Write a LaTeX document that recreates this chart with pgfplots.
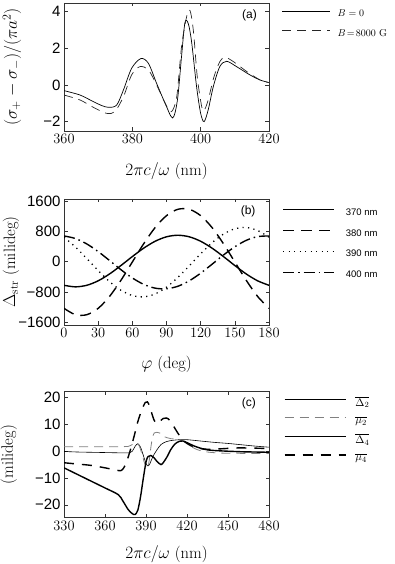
\documentclass[border=0pt]{standalone}
\usepackage{fontspec}
\usepackage{pgfplots}
\pgfplotsset{compat=1.18}
\newfontfamily\helv{Liberation Sans}

\pgfplotsset{
 myaxis/.style={
   scale only axis, width=205pt, anchor=south west,
   axis line style={black!80, line width=0.9pt},
   tick align=inside, tick style={black!80, line width=0.6pt}, major tick length=3.5pt,
   tick label style={font=\helv\fontsize{15}{17}\selectfont},
   label style={font=\fontsize{16.5}{19}\selectfont},
   legend style={draw=none, fill=none, at={(rel axis cs:1,1)}, anchor=north west, inner sep=0pt, outer sep=0pt, cells={anchor=west}},
 }
}

\begin{document}
\begin{tikzpicture}
\useasboundingbox (0,0) rectangle (395pt,564pt);

% ---------------- (a)
\begin{axis}[myaxis, height=128pt, at={(64pt,433pt)},
  xmin=360, xmax=420, ymin=-2.51, ymax=4.47,
  xtick={360,380,400,420}, ytick={-2,0,2,4}, yticklabels={−2,0,2,4},
  xlabel={$2\pi c/\omega$ (nm)},
  xlabel style={at={(axis description cs:0.5,0)}, anchor=center, yshift=-40pt},
  ylabel={$(\sigma_+-\sigma_-)/(\pi a^2)$},
  ylabel style={at={(axis description cs:-0.254,0.5)}, anchor=center},
  legend style={xshift=13pt, yshift=-5pt, font=\fontsize{10}{11}\selectfont, row sep=7pt},
  legend image code/.code={\draw[#1] (0pt,3pt) -- (48pt,3pt); \path (53pt,3pt);},
]
\addplot[black, line width=0.7pt, smooth] coordinates {
(360,-0.31) (364.7,-0.55) (368.6,-0.91) (371,-1.12) (373,-1.22) (375.4,-1.1) (377.4,-0.27) (379.8,0.91) (382.5,1.44) (384.7,1.18) (387.1,0.09) (389.6,-1.0) (391.8,-1.8) (393.2,-0.82) (394.4,1.55) (395.4,3.4) (396.4,3.33) (397.4,2.27) (398.8,-0.09) (400,-1.55) (401,-2.0) (402.2,-1.36) (403.7,-0.09) (405.6,1.0) (407.6,1.29) (410.5,1.0) (414.4,0.55) (417.4,0.27) (420,0.13)};
\addlegendentry{$B=0$}
\addplot[black!85, line width=0.7pt, smooth, dash pattern=on 9pt off 6pt] coordinates {
(360,-0.55) (364.7,-0.82) (368.6,-1.22) (372.5,-1.55) (374.9,-1.45) (377.4,-0.64) (379.8,0.55) (382.2,1.0) (384.7,0.82) (387.1,0) (390.1,-1.18) (391.5,-1.45) (393,-0.64) (394.4,2.09) (395.9,3.73) (396.9,4.05) (397.9,2.9) (399,0.45) (400.3,-1.18) (401,-1.4) (402.2,-0.82) (403.9,0.45) (405.6,1.27) (407.1,1.51) (409.6,1.27) (413.5,0.73) (417.4,0.27) (420,0.13)};
\addlegendentry{$B\!=\!8000$ G}
\node[font=\helv\fontsize{12}{14}\selectfont] at (rel axis cs:0.905,0.906) {(a)};
\end{axis}

% ---------------- (b)
\begin{axis}[myaxis, height=126pt, at={(64pt,239pt)},
  xmin=0, xmax=180, ymin=-1670, ymax=1650,
  xtick={0,30,...,180}, ytick={-1600,-800,0,800,1600}, yticklabels={−1600,−800,0,800,1600},
  xlabel={$\varphi$ (deg)},
  xlabel style={at={(axis description cs:0.5,0)}, anchor=center, yshift=-39pt},
  ylabel={$\Delta_{\rm str}$ (milideg)},
  ylabel style={at={(axis description cs:-0.258,0.5)}, anchor=center},
  legend style={xshift=13.5pt, yshift=-7.5pt, font=\helv\fontsize{9.5}{10}\selectfont, row sep=8.8pt},
  legend image code/.code={\draw[#1] (0pt,3pt) -- (51pt,3pt); \path (60pt,3pt);},
]
\addplot[black, line width=1.4pt, smooth] coordinates {
(0,-624) (10,-665) (20,-624) (30,-506) (40,-325) (50,-103) (60,133) (70,355) (80,536) (90,654) (100,695) (110,654) (120,536) (130,355) (140,133) (150,-103) (160,-325) (170,-506) (180,-624)};
\addlegendentry{370 nm}
\addplot[black, line width=1.4pt, smooth, dash pattern=on 11pt off 7pt] coordinates {
(0,-1231) (10,-1399) (20,-1399) (30,-1231) (40,-917) (50,-492) (60,-10) (70,472) (80,897) (90,1211) (100,1379) (110,1379) (120,1211) (130,897) (140,472) (150,-10) (160,-492) (170,-917) (180,-1231)};
\addlegendentry{380 nm}
\addplot[black, line width=1.3pt, smooth, dash pattern=on 1.2pt off 4.3pt] coordinates {
(0,643) (10,386) (20,81) (30,-236) (40,-527) (50,-755) (60,-894) (70,-928) (80,-851) (90,-673) (100,-416) (110,-111) (120,206) (130,497) (140,725) (150,864) (160,898) (170,821) (180,643)};
\addlegendentry{390 nm}
\addplot[black, line width=1.4pt, smooth, dash pattern=on 11pt off 4pt on 1.5pt off 4pt] coordinates {
(0,676) (10,609) (20,466) (30,265) (40,29) (50,-213) (60,-431) (70,-600) (80,-699) (90,-716) (100,-649) (110,-506) (120,-305) (130,-69) (140,173) (150,391) (160,560) (170,659) (180,676)};
\addlegendentry{400 nm}
\node[font=\helv\fontsize{12}{14}\selectfont] at (rel axis cs:0.898,0.905) {(b)};
\end{axis}

% ---------------- (c)
\begin{axis}[myaxis, height=126pt, at={(64pt,46.3pt)},
  xmin=330, xmax=480, ymin=-24.8, ymax=22.2,
  xtick={330,360,...,480}, ytick={-20,-10,0,10,20}, yticklabels={−20,−10,0,10,20},
  xlabel={$2\pi c/\omega$ (nm)},
  xlabel style={at={(axis description cs:0.5,0)}, anchor=center, yshift=-36pt},
  ylabel={(milideg)},
  ylabel style={at={(axis description cs:-0.27,0.5)}, anchor=center},
  legend style={xshift=15pt, yshift=-3pt, font=\fontsize{11}{12}\selectfont, row sep=5pt},
  legend image code/.code={\draw[#1] (0pt,3pt) -- (61pt,3pt); \path (68pt,3pt);},
]
\addplot[black, line width=0.6pt, smooth] coordinates {
(330,-0.1) (340,-0.3) (350,-0.4) (360,-0.5) (370,-0.6) (378,-0.6) (380,0) (382,1.8) (384,2.8) (386,1.5) (388,-1.5) (390,-4.5) (391.5,-5.5) (393,-4.5) (395,-2) (398,0.5) (401,2.5) (405,3.6) (410,4.1) (415,4.3) (420,4.3) (430,3.8) (440,3.3) (450,2.9) (460,2.4) (470,1.9) (480,1.5)};
\addlegendentry{$\overline{\Delta_2}$}
\addplot[gray, line width=0.8pt, smooth, dash pattern=on 9pt off 6pt] coordinates {
(330,1.7) (340,1.7) (350,1.7) (360,1.7) (370,1.7) (377,1.8) (380,2.5) (383,3) (385,2) (387,-1) (389,-4.5) (391,-6.5) (392.5,-3) (394,3) (396,6.8) (400,6.8) (403,5.5) (408,4.7) (414,4.4) (418,3.5) (422,2) (428,0.5) (435,-0.3) (445,-0.7) (460,-0.8) (480,-0.8)};
\addlegendentry{$\overline{\mu_2}$}
\addplot[black, line width=1.4pt, smooth] coordinates {
(330,-6.2) (340,-8.7) (350,-11.2) (360,-13.7) (369.7,-16.2) (373,-18.5) (377,-21.8) (380,-23.3) (382,-23.6) (384,-22) (386,-17) (388,-10.2) (390,-4) (391.5,-2) (393.5,-1.6) (396,-2.5) (398,-3.8) (401,-5) (403,-4) (405.5,-2) (408,0.5) (411,2.6) (414,3.6) (417,3.8) (420,3.2) (425,2.0) (430,1.1) (435,0.5) (442,0.2) (450,0) (460,-0.2) (470,-0.3) (480,-0.4)};
\addlegendentry{$\overline{\Delta_4}$}
\addplot[black, line width=1.4pt, smooth, dash pattern=on 10pt off 8pt] coordinates {
(330,-4.3) (340,-4.8) (350,-5.3) (360,-6.2) (368,-7) (372,-7.2) (375,-5) (378,-0.5) (381,5) (384,11) (387,15.5) (389.5,18.2) (391,18.4) (392.5,17) (394,14.5) (396,11.5) (398,10.3) (400,11) (402.5,12.2) (405,12.4) (407.5,11.5) (410,9.5) (413,7) (416,4.8) (419,3.3) (423,2) (428,1.2) (435,0.7) (445,0.9) (455,1.2) (465,1.2) (480,1.0)};
\addlegendentry{$\overline{\mu_4}$}
\node[font=\helv\fontsize{12}{14}\selectfont] at (rel axis cs:0.902,0.908) {(c)};
\end{axis}
\end{tikzpicture}
\end{document}
